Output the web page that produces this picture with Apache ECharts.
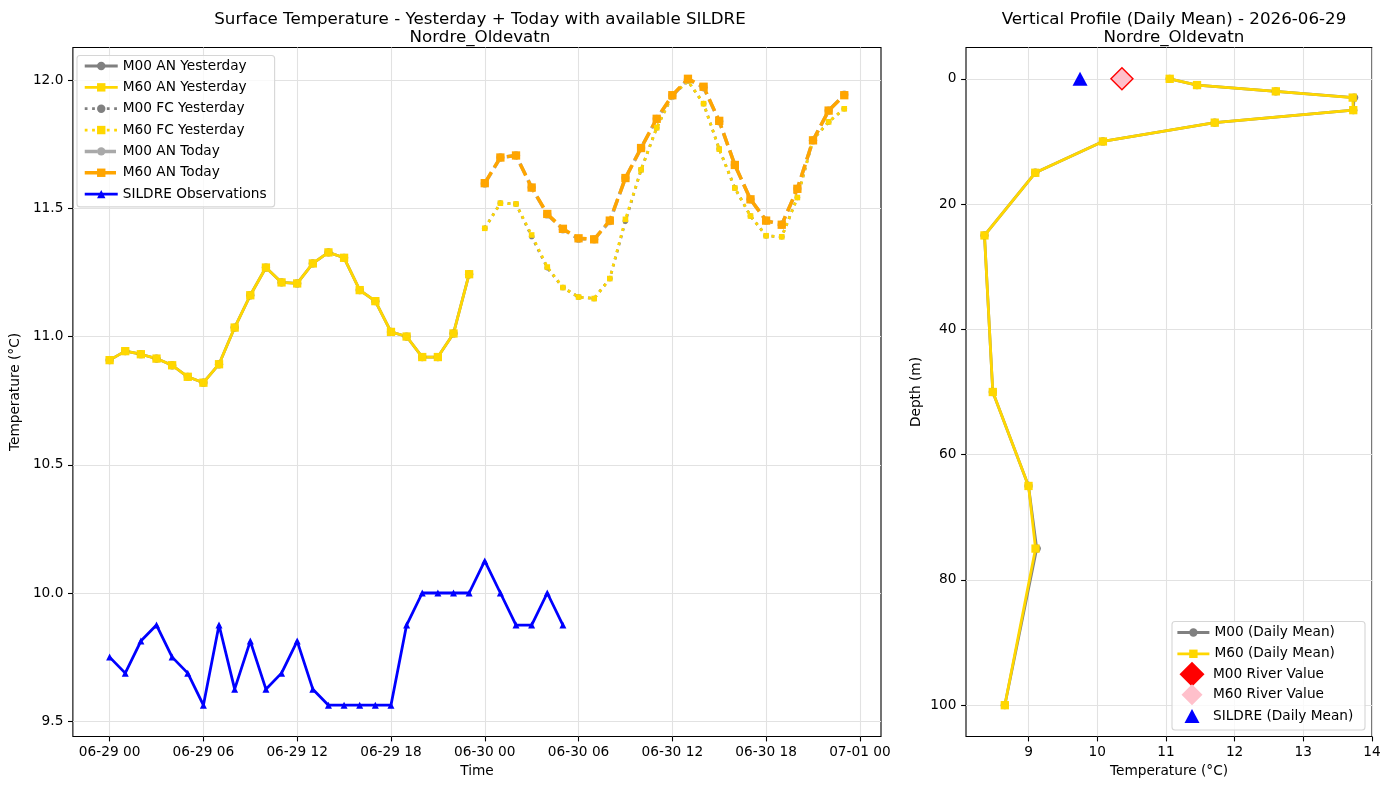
<!DOCTYPE html>
<html>
<head>
<meta charset="utf-8">
<title>Nordre_Oldevatn</title>
<script src="https://cdn.jsdelivr.net/npm/echarts@6/dist/echarts.min.js"></script>
<style>
  html, body { margin: 0; padding: 0; background: #fff; }
  #chart { width: 1389px; height: 790px; }
</style>
</head>
<body>
<div id="chart"></div>
<script>
// hours since 06-29 00
const hoursYesterday = [0, 1, 2, 3, 4, 5, 6, 7, 8, 9, 10, 11, 12, 13, 14, 15, 16, 17, 18, 19, 20, 21, 22, 23]
const hoursToday = [24, 25, 26, 27, 28, 29, 30, 31, 32, 33, 34, 35, 36, 37, 38, 39, 40, 41, 42, 43, 44, 45, 46, 47]
const hoursObs = [0, 1, 2, 3, 4, 5, 6, 7, 8, 9, 10, 11, 12, 13, 14, 15, 16, 17, 18, 19, 20, 21, 22, 23, 24, 25, 26, 27, 28, 29]

const timeTicks = [0, 6, 12, 18, 24, 30, 36, 42, 48]
const timeTickLabels = ['06-29 00', '06-29 06', '06-29 12', '06-29 18', '06-30 00', '06-30 06', '06-30 12', '06-30 18', '07-01 00']
const tempTicks = [9.5, 10.0, 10.5, 11.0, 11.5, 12.0]
const profTempTicks = [9, 10, 11, 12, 13, 14]
const depthTicks = [0, 20, 40, 60, 80, 100]

const m00AnYesterday = [10.908, 10.943, 10.931, 10.914, 10.888, 10.843, 10.820, 10.892, 11.035, 11.161, 11.269, 11.211, 11.207, 11.285, 11.328, 11.307, 11.181, 11.138, 11.018, 11.000, 10.920, 10.920, 11.012, 11.243]
const m60AnYesterday = [10.908, 10.943, 10.931, 10.914, 10.888, 10.843, 10.820, 10.892, 11.035, 11.161, 11.269, 11.211, 11.207, 11.285, 11.328, 11.307, 11.181, 11.138, 11.018, 11.000, 10.920, 10.920, 11.012, 11.243]
const m00FcYesterday = [11.422, 11.520, 11.517, 11.390, 11.268, 11.191, 11.154, 11.148, 11.226, 11.450, 11.650, 11.814, 11.940, 11.996, 11.908, 11.731, 11.579, 11.470, 11.393, 11.389, 11.542, 11.768, 11.837, 11.888]
const m60FcYesterday = [11.422, 11.520, 11.517, 11.396, 11.271, 11.191, 11.154, 11.148, 11.226, 11.457, 11.650, 11.814, 11.940, 11.996, 11.908, 11.731, 11.579, 11.470, 11.393, 11.389, 11.542, 11.768, 11.837, 11.888]
const m00AnToday = [11.596, 11.698, 11.706, 11.581, 11.476, 11.418, 11.381, 11.379, 11.450, 11.618, 11.735, 11.849, 11.939, 12.003, 11.972, 11.839, 11.669, 11.535, 11.452, 11.436, 11.576, 11.765, 11.881, 11.943]
const m60AnToday = [11.598, 11.698, 11.706, 11.581, 11.478, 11.420, 11.383, 11.379, 11.452, 11.618, 11.735, 11.849, 11.941, 12.005, 11.974, 11.841, 11.669, 11.535, 11.452, 11.436, 11.576, 11.765, 11.881, 11.941]
const sildreObs = [9.75, 9.6875, 9.8125, 9.875, 9.75, 9.6875, 9.5625, 9.875, 9.625, 9.8125, 9.625, 9.6875, 9.8125, 9.625, 9.5625, 9.5625, 9.5625, 9.5625, 9.5625, 9.875, 10.0, 10.0, 10.0, 10.0, 10.125, 10.0, 9.875, 9.875, 10.0, 9.875]

const profileDepths = [0, 1, 2, 3, 5, 7, 10, 15, 25, 50, 65, 75, 100]
const m00Profile = [11.055, 11.453, 12.60, 13.74, 13.727, 11.711, 10.083, 9.098, 8.359, 8.480, 9.0, 9.12, 8.655]
const m60Profile = [11.055, 11.453, 12.60, 13.719, 13.727, 11.711, 10.083, 9.098, 8.359, 8.480, 9.0, 9.102, 8.655]
const m00River = 10.36
const m60River = 10.36
const sildreDailyMean = 9.75

const FONT = 'DejaVu Sans'
const FS = 13.7
const GRIDC = '#e2e2e2'

const pairs = (xs, ys) => xs.map((x, i) => [x, ys[i]])
const profPairs = (temps) => temps.map((t, i) => [t, profileDepths[i]])

const chart = echarts.init(document.getElementById('chart'))

const axisCommon = {
  axisLine: { show: false, onZero: false },
  axisTick: { show: true, length: 4.9, lineStyle: { color: '#000', width: 1.1 } },
  axisLabel: { color: '#000', fontSize: FS, fontFamily: FONT },
  splitLine: { show: true, lineStyle: { color: GRIDC, width: 1.1 } },
  nameTextStyle: { color: '#000', fontSize: FS, fontFamily: FONT },
  nameLocation: 'middle'
}

const legendText = { color: '#000', fontSize: FS, fontFamily: FONT }
const legendLine = { width: 'inherit' }

chart.setOption({
  animation: false,
  backgroundColor: '#fff',
  textStyle: { fontFamily: FONT },
  title: [
    {
      text: 'Surface Temperature - Yesterday + Today with available SILDRE\nNordre_Oldevatn',
      left: 475, top: 5.5, textAlign: 'center',
      textStyle: { fontSize: 16.7, fontWeight: 'normal', color: '#000', fontFamily: FONT, lineHeight: 18 }
    },
    {
      text: 'Vertical Profile (Daily Mean) - 2026-06-29\nNordre_Oldevatn',
      left: 1169, top: 5.5, textAlign: 'center',
      textStyle: { fontSize: 16.7, fontWeight: 'normal', color: '#000', fontFamily: FONT, lineHeight: 18 }
    }
  ],
  grid: [
    { left: 70, top: 47.5, width: 811, height: 689, show: true, borderColor: '#000', borderWidth: 1.1, backgroundColor: 'transparent' },
    { left: 966, top: 47.5, width: 406, height: 689, show: true, borderColor: '#000', borderWidth: 1.1, backgroundColor: 'transparent' }
  ],
  xAxis: [
    {
      ...axisCommon, gridIndex: 0, type: 'value', min: -2.35, max: 49.35,
      name: 'Time', nameGap: 28,
      axisTick: { ...axisCommon.axisTick, customValues: timeTicks },
      axisLabel: { ...axisCommon.axisLabel, margin: 9, customValues: timeTicks,
        formatter: (v) => timeTickLabels[timeTicks.indexOf(Math.round(v))] || '' }
    },
    {
      ...axisCommon, gridIndex: 1, type: 'value', min: 8.09, max: 14.0,
      name: 'Temperature (°C)', nameGap: 28,
      axisTick: { ...axisCommon.axisTick, customValues: profTempTicks },
      axisLabel: { ...axisCommon.axisLabel, margin: 9, customValues: profTempTicks }
    }
  ],
  yAxis: [
    {
      ...axisCommon, gridIndex: 0, type: 'value', min: 9.4404, max: 12.127,
      name: 'Temperature (°C)', nameGap: 48,
      axisTick: { ...axisCommon.axisTick, customValues: tempTicks },
      axisLabel: { ...axisCommon.axisLabel, margin: 9.5, customValues: tempTicks,
        formatter: (v) => v.toFixed(1) }
    },
    {
      ...axisCommon, gridIndex: 1, type: 'value', min: -5, max: 105, inverse: true,
      name: 'Depth (m)', nameGap: 43,
      axisTick: { ...axisCommon.axisTick, customValues: depthTicks },
      axisLabel: { ...axisCommon.axisLabel, margin: 9.5, customValues: depthTicks }
    }
  ],
  legend: [
    {
      left: 77, top: 55.5, orient: 'vertical',
      padding: [3.5, 8, 5.8, 6],
      itemWidth: 33, itemHeight: 10.5, itemGap: 7.35,
      backgroundColor: 'rgba(255,255,255,0.8)', borderColor: '#d6d6d6', borderWidth: 1.1, borderRadius: 3,
      textStyle: legendText, lineStyle: legendLine,
      data: ['M00 AN Yesterday', 'M60 AN Yesterday', 'M00 FC Yesterday', 'M60 FC Yesterday', 'M00 AN Today', 'M60 AN Today', 'SILDRE Observations']
    },
    {
      left: 1176, top: 625.5, orient: 'vertical', padding: 0,
      itemWidth: 32, itemHeight: 10.5, itemGap: 7.3, textStyle: legendText, lineStyle: legendLine,
      data: ['M00 (Daily Mean)', 'M60 (Daily Mean)']
    },
    {
      left: 1179.5, top: 661.8, orient: 'vertical', padding: 0,
      itemWidth: 25, itemHeight: 25, symbolKeepAspect: true,
      textStyle: { ...legendText, padding: [0, 0, 0, 3.5] },
      data: ['M00 River Value']
    },
    {
      left: 1181.5, top: 684.2, orient: 'vertical', padding: 0,
      itemWidth: 21, itemHeight: 21, symbolKeepAspect: true,
      textStyle: { ...legendText, padding: [0, 0, 0, 5.5] },
      data: ['M60 River Value']
    },
    {
      left: 1184.5, top: 709, orient: 'vertical', padding: 0,
      itemWidth: 15, itemHeight: 14, symbolKeepAspect: true,
      textStyle: { ...legendText, padding: [0, 0, 0, 8.5] },
      data: ['SILDRE (Daily Mean)']
    }
  ],
  graphic: [
    {
      type: 'rect', z: 3, silent: true,
      shape: { x: 1172, y: 621.5, width: 193, height: 108.5, r: 3 },
      style: { fill: 'rgba(255,255,255,0.8)', stroke: '#d6d6d6', lineWidth: 1.1 }
    }
  ],
  series: [
    {
      name: 'M00 AN Yesterday', type: 'line', xAxisIndex: 0, yAxisIndex: 0,
      data: pairs(hoursYesterday, m00AnYesterday),
      symbol: 'circle', symbolSize: 8.3,
      lineStyle: { color: '#808080', width: 2.78 }, itemStyle: { color: '#808080' }
    },
    {
      name: 'M60 AN Yesterday', type: 'line', xAxisIndex: 0, yAxisIndex: 0,
      data: pairs(hoursYesterday, m60AnYesterday),
      symbol: 'rect', symbolSize: 8.3,
      lineStyle: { color: '#FFD700', width: 2.78 }, itemStyle: { color: '#FFD700' }
    },
    {
      name: 'M00 FC Yesterday', type: 'line', xAxisIndex: 0, yAxisIndex: 0,
      data: pairs(hoursToday, m00FcYesterday),
      symbol: 'circle', symbolSize: 5.6,
      lineStyle: { color: '#808080', width: 2.78, type: [2.78, 4.58] }, itemStyle: { color: '#808080' }
    },
    {
      name: 'M60 FC Yesterday', type: 'line', xAxisIndex: 0, yAxisIndex: 0,
      data: pairs(hoursToday, m60FcYesterday),
      symbol: 'rect', symbolSize: 5.6,
      lineStyle: { color: '#FFD700', width: 2.78, type: [2.78, 4.58] }, itemStyle: { color: '#FFD700' }
    },
    {
      name: 'M00 AN Today', type: 'line', xAxisIndex: 0, yAxisIndex: 0,
      data: pairs(hoursToday, m00AnToday),
      symbol: 'circle', symbolSize: 8.3,
      lineStyle: { color: '#A9A9A9', width: 3.47, type: [12.85, 5.56] }, itemStyle: { color: '#A9A9A9' }
    },
    {
      name: 'M60 AN Today', type: 'line', xAxisIndex: 0, yAxisIndex: 0,
      data: pairs(hoursToday, m60AnToday),
      symbol: 'rect', symbolSize: 8.3,
      lineStyle: { color: '#FFA500', width: 3.47, type: [12.85, 5.56] }, itemStyle: { color: '#FFA500' }
    },
    {
      name: 'SILDRE Observations', type: 'line', xAxisIndex: 0, yAxisIndex: 0,
      data: pairs(hoursObs, sildreObs),
      symbol: 'triangle', symbolSize: 7,
      lineStyle: { color: '#0000FF', width: 2.78 }, itemStyle: { color: '#0000FF' }
    },
    {
      name: 'M00 (Daily Mean)', type: 'line', xAxisIndex: 1, yAxisIndex: 1,
      data: profPairs(m00Profile),
      symbol: 'circle', symbolSize: 8.3,
      lineStyle: { color: '#808080', width: 2.78 }, itemStyle: { color: '#808080' }
    },
    {
      name: 'M60 (Daily Mean)', type: 'line', xAxisIndex: 1, yAxisIndex: 1,
      data: profPairs(m60Profile),
      symbol: 'rect', symbolSize: 8.3,
      lineStyle: { color: '#FFD700', width: 2.78 }, itemStyle: { color: '#FFD700' }
    },
    {
      name: 'M00 River Value', type: 'scatter', xAxisIndex: 1, yAxisIndex: 1,
      data: [[m00River, 0]], symbol: 'diamond', symbolSize: 24,
      itemStyle: { color: '#FF0000', opacity: 1 }
    },
    {
      name: 'M60 River Value', type: 'scatter', xAxisIndex: 1, yAxisIndex: 1,
      data: [[m60River, 0]], symbol: 'diamond', symbolSize: 20,
      itemStyle: { color: '#FFC0CB', opacity: 1 }
    },
    {
      name: 'SILDRE (Daily Mean)', type: 'scatter', xAxisIndex: 1, yAxisIndex: 1,
      data: [[sildreDailyMean, 0]], symbol: 'triangle', symbolSize: [15, 14],
      itemStyle: { color: '#0000FF', opacity: 1 }
    }
  ]
})
</script>
</body>
</html>
